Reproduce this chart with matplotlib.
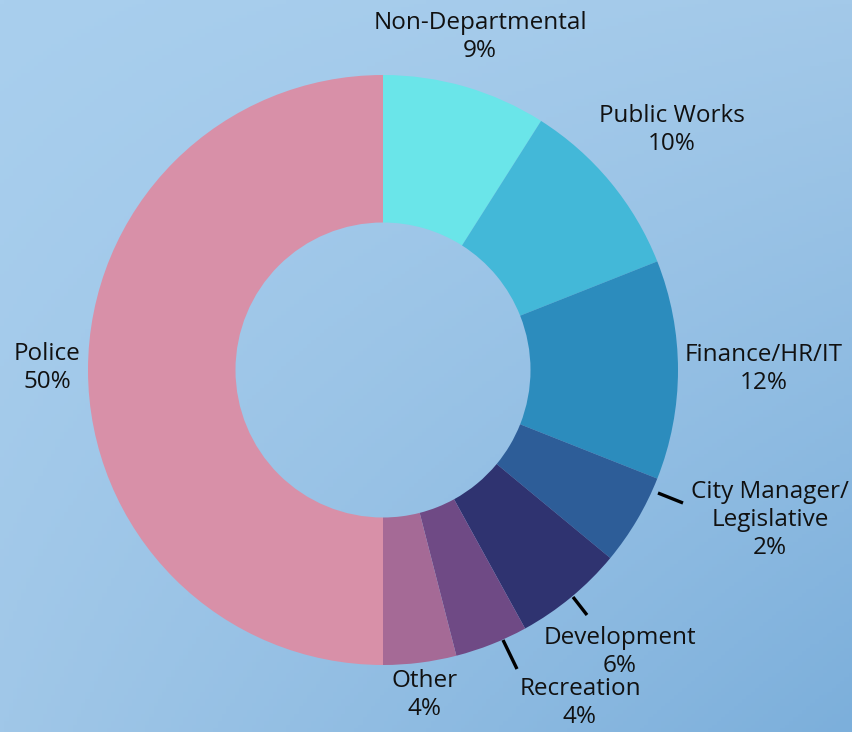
import numpy as np
import matplotlib.pyplot as plt
from matplotlib.colors import to_rgb

# slice sizes (clockwise from 12 o'clock)
departments = ["Non-Departmental", "Public Works", "Finance/HR/IT",
               "City Manager/\nLegislative", "Development", "Recreation",
               "Other", "Police"]
shares = [9, 10, 12, 5, 6, 4, 4, 50]
pct_labels = ["9%", "10%", "12%", "2%", "6%", "4%", "4%", "50%"]
colors = ["#6ae5e9", "#43b8d8", "#2c8cbd", "#2d5d98", "#2f3370",
          "#6f4a85", "#a56a96", "#d890a8"]

# label anchors (pixels in the 853x732 picture) and leader ticks
label_px = [(480, 37), (672, 130), (764, 369), (770, 520),
            (620, 652), (580, 703), (425, 695), (47, 368)]
ticks_px = [((658, 493), (683, 503)), ((573, 597), (587, 615)),
            ((503, 640), (517, 669))]

W, H = 853, 732
cx, cy, R = 383, 370, 295

fig = plt.figure(figsize=(W / 100, H / 100), dpi=100)

# background gradient
bg = fig.add_axes([0, 0, 1, 1])
bg.axis("off")
tl, tr = np.array(to_rgb("#a9cfee")), np.array(to_rgb("#a3c9e9"))
bl, br = np.array(to_rgb("#a0c7e8")), np.array(to_rgb("#7cafdb"))
u = np.linspace(0, 1, 200)[None, :, None]
v = np.linspace(0, 1, 200)[:, None, None]
img = (1 - v) * ((1 - u) * tl + u * tr) + v * ((1 - u) * bl + u * br)
bg.imshow(img, aspect="auto", extent=[0, 1, 0, 1])

ax = fig.add_axes([(cx - R) / W, 1 - (cy + R) / H, 2 * R / W, 2 * R / H])
ax.pie(shares, colors=colors, startangle=90, counterclock=False,
       radius=1, wedgeprops=dict(width=0.5, linewidth=0))
ax.set_xlim(-1, 1)
ax.set_ylim(-1, 1)
ax.axis("off")


def to_data(p):
    return (p[0] - cx) / R, (cy - p[1]) / R


for name, pct, p in zip(departments, pct_labels, label_px):
    x, y = to_data(p)
    ax.text(x, y, f"{name}\n{pct}", ha="center", va="center",
            fontsize=17.5, family="Open Sans", color="#111111",
            linespacing=1.2, clip_on=False)

for a, b in ticks_px:
    (x0, y0), (x1, y1) = to_data(a), to_data(b)
    ax.plot([x0, x1], [y0, y1], color="black", lw=2.4,
            solid_capstyle="butt", clip_on=False)

fig.savefig("out.png", dpi=100)
